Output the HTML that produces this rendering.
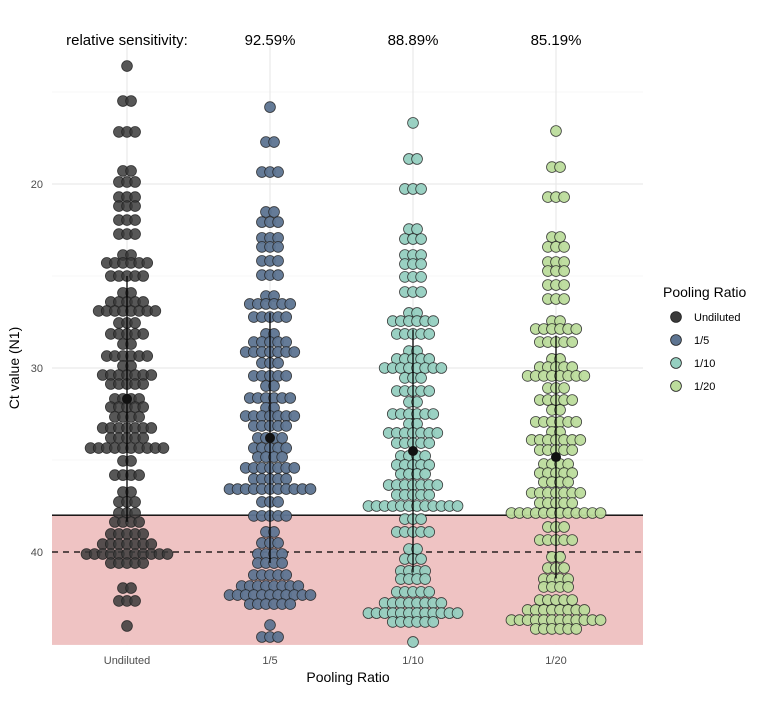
<!DOCTYPE html>
<html><head><meta charset="utf-8">
<style>
body{margin:0;background:#fff;}
svg{display:block;font-family:"Liberation Sans",Arial,sans-serif;}
</style></head>
<body>
<svg id="chart" width="758" height="716" viewBox="0 0 758 716" xmlns="http://www.w3.org/2000/svg">
<g id="grid"></g>
<rect id="neg-region" fill="#efc3c3"/>
<g id="guides"></g>
<g id="marks"></g>
<g id="axes"></g>
<text x="348" y="682" text-anchor="middle" font-size="14" fill="#000">Pooling Ratio</text>
<text transform="translate(19,368) rotate(-90)" text-anchor="middle" font-size="14" fill="#000">Ct value (N1)</text>
<g>
<text x="663" y="297" font-size="14" fill="#000">Pooling Ratio</text>
<g id="legend-items"></g>
</g>
</svg>
<script>
const categories = ["Undiluted","1/5","1/10","1/20"];
const sensLabels = ["relative sensitivity:","92.59%","88.89%","85.19%"];
const colors = ["#3a3a3a","#5d7491","#95cfc0","#bcdc9c"];
const yTicks = [20,30,40];
const yMinor = [15,25,35,45];
const threshold = 38;
const lod = 40;

const undCt = [13.59,15.49,17.17,19.29,19.89,20.71,21.2,21.96,22.72,23.86,24.29,25.0,25.92,26.41,26.9,27.55,28.15,28.7,29.35,29.89,30.38,30.87,31.68,32.12,32.66,33.26,33.8,34.35,35.05,35.82,36.74,37.28,37.88,38.37,39.02,39.57,40.11,40.6,41.96,42.66,44.02];
const undN  = [1,2,3,2,3,3,3,3,3,2,6,5,2,5,8,3,5,2,6,2,7,5,4,5,4,7,5,10,2,4,2,3,3,4,5,7,11,5,2,3,1];
const p5Ct = [15.82,17.72,19.35,21.52,22.07,22.93,23.42,24.18,24.95,26.09,26.52,27.23,28.15,28.59,29.13,29.73,30.43,30.98,31.63,32.17,32.61,33.15,33.8,34.35,34.84,35.43,36.03,36.58,37.28,38.04,38.91,39.51,40.11,40.6,41.25,41.85,42.34,42.83,43.97,44.62];
const p5N  = [1,2,3,2,3,3,3,3,3,2,6,5,2,5,7,3,5,2,6,2,7,5,4,5,4,7,5,11,3,5,2,3,4,4,5,8,11,6,1,3];
const p10Ct = [16.68,18.64,20.27,22.45,22.99,23.86,24.35,25.05,25.87,27.01,27.45,28.15,29.08,29.51,30.0,30.54,31.25,31.85,32.5,33.04,33.53,34.08,34.78,35.27,35.76,36.36,36.9,37.5,38.21,38.91,39.84,40.38,41.03,41.47,42.17,42.77,43.32,43.8,44.89];
const p10N  = [1,2,3,2,3,3,3,3,3,2,6,5,2,5,8,3,5,2,6,2,7,5,4,5,4,7,5,12,3,5,2,3,4,4,5,8,12,6,1];
const p20Ct = [17.12,19.08,20.71,22.88,23.42,24.24,24.73,25.49,26.25,27.45,27.88,28.59,29.51,29.95,30.43,31.09,31.74,32.28,32.93,33.48,33.91,34.46,35.22,35.71,36.2,36.79,37.34,37.88,38.64,39.35,40.27,40.87,41.47,41.9,42.61,43.15,43.7,44.18];
const p20N  = [1,2,3,2,3,3,3,3,3,2,6,5,2,5,8,3,5,2,6,2,7,5,4,5,4,7,5,12,3,5,2,3,4,4,5,8,12,6];
const means = [31.68,33.8,34.51,34.84];
const sds = [6.68,6.8,6.6,6.6];

const seriesCt = [undCt,p5Ct,p10Ct,p20Ct];
const seriesN = [undN,p5N,p10N,p20N];

const NS="http://www.w3.org/2000/svg";
const L=52,R=643,T=42,B=645;
function y(ct){return 184+(ct-20)*18.4;}
function x(i){return 127+143*i;}
function mk(tag,attrs,parent){const e=document.createElementNS(NS,tag);for(const k in attrs)e.setAttribute(k,attrs[k]);parent.appendChild(e);return e;}

const grid=document.getElementById('grid');
yMinor.forEach(v=>{const l=mk('line',{x1:L,x2:R,y1:y(v),y2:y(v),stroke:'#f0f0f0','stroke-width':0.6},grid);

});
yTicks.forEach(v=>{const l=mk('line',{x1:L,x2:R,y1:y(v),y2:y(v),stroke:'#e6e6e6','stroke-width':1},grid);

});
categories.forEach((c,i)=>{const l=mk('line',{x1:x(i),x2:x(i),y1:T,y2:B,stroke:'#e6e6e6','stroke-width':1},grid);

});

const reg=document.getElementById('neg-region');
reg.setAttribute('x',L);reg.setAttribute('width',R-L);
reg.setAttribute('y',y(threshold));reg.setAttribute('height',y(45.05)-y(threshold));

const guides=document.getElementById('guides');
const tl=mk('line',{x1:L,x2:R,y1:y(threshold),y2:y(threshold),stroke:'#000','stroke-width':1.3},guides);


const dl=mk('line',{x1:L,x2:R,y1:y(lod),y2:y(lod),stroke:'#000','stroke-width':1.3,'stroke-dasharray':'6,5'},guides);



const marks=document.getElementById('marks');
const sp=8.1,r=5.4;
seriesCt.forEach((cts,i)=>{
  const g=mk('g',{},marks);
  
  
  cts.forEach((ct,j)=>{
    const n=seriesN[i][j];
    for(let k=0;k<n;k++){
      const cx=x(i)+(k-(n-1)/2)*sp;
      const c=mk('circle',{cx:cx,cy:y(ct),r:r,fill:colors[i],'fill-opacity':i===0?0.85:0.95,stroke:'#222','stroke-opacity':0.85,'stroke-width':0.8},g);
      
      
    }
  });
  const ln=mk('line',{x1:x(i),x2:x(i),y1:y(means[i]-sds[i]),y2:y(means[i]+sds[i]),stroke:'#000','stroke-width':1.3},g);
  
  
  const md=mk('circle',{cx:x(i),cy:y(means[i]),r:5,fill:'#111'},g);
  
  
});

const axes=document.getElementById('axes');
yTicks.forEach(v=>{const t=mk('text',{x:43,y:y(v)+4,'text-anchor':'end','font-size':11,fill:'#4d4d4d'},axes);t.textContent=v;

});
categories.forEach((c,i)=>{const t=mk('text',{x:x(i),y:664,'text-anchor':'middle','font-size':11,fill:'#4d4d4d'},axes);t.textContent=c;

});
sensLabels.forEach((s,i)=>{const t=mk('text',{x:x(i),y:45,'text-anchor':'middle','font-size':15,fill:'#000'},axes);t.textContent=s;

});

const li=document.getElementById('legend-items');
categories.forEach((c,i)=>{
  const cy=317+23*i;
  const g=mk('g',{},li);
  
  
  mk('circle',{cx:676,cy:cy,r:5.4,fill:colors[i],stroke:'#222','stroke-width':0.8},g);
  const t=mk('text',{x:694,y:cy+4,'font-size':11,fill:'#000'},g);t.textContent=c;
});
</script>
</body></html>
